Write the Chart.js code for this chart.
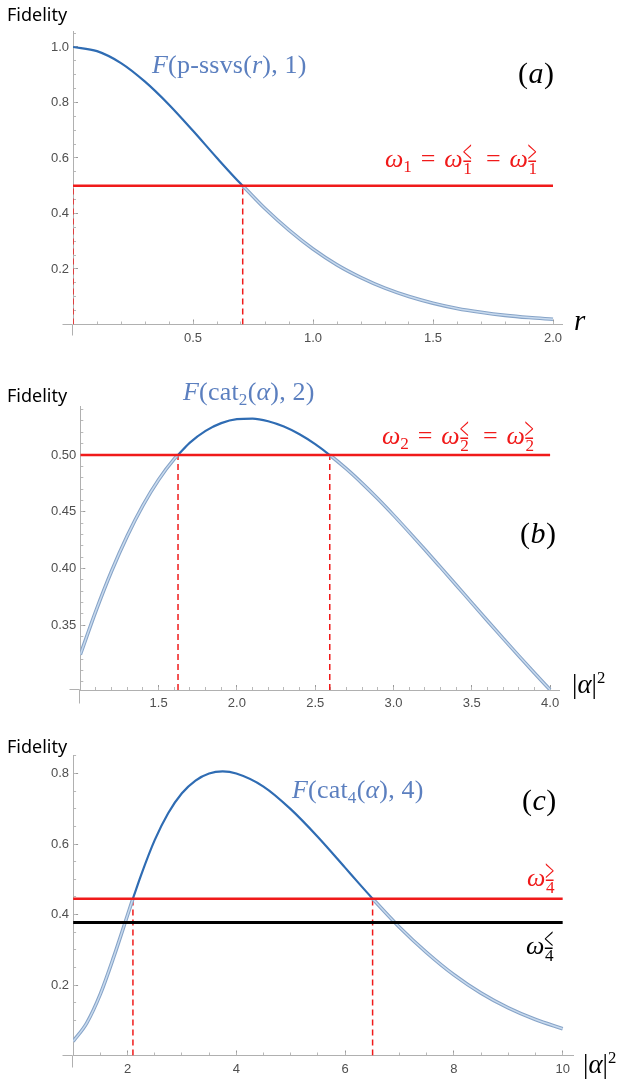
<!DOCTYPE html>
<html>
<head>
<meta charset="utf-8">
<script src="https://cdn.jsdelivr.net/npm/chart.js@4.4.1/dist/chart.umd.min.js"></script>
<style>
html,body{margin:0;padding:0;background:#fff;}
#wrap{position:relative;width:621px;height:1079px;overflow:hidden;background:#fff;}
canvas{position:absolute;left:0;}
.t{position:absolute;white-space:nowrap;line-height:1;}
.fid{font-family:'Noto Sans',sans-serif;font-size:18px;color:#000;}
.m{font-family:'Liberation Serif','Times New Roman',serif;}
.blue{color:#5b7fbf;letter-spacing:0.2px;}
.red{color:#f01a1a;}
.eq{margin:0 0.34em;}
.sb1{font-size:0.66em;vertical-align:-0.32em;line-height:0;}
.ss{display:inline-block;position:relative;width:0.56em;height:0.8em;}
.ss .sp{position:absolute;left:0;bottom:-0.08em;font-size:0.64em;line-height:1;transform:scaleY(1.85);transform-origin:50% 100%;}
.ss .sb{position:absolute;left:0.04em;top:0.78em;font-size:0.66em;line-height:1;}
.sq{font-size:0.62em;vertical-align:0.62em;line-height:0;}
</style>
</head>
<body>
<div id="wrap">
  <canvas id="cA" width="621" height="350" style="top:0px"></canvas>
  <canvas id="cB" width="621" height="365" style="top:350px"></canvas>
  <canvas id="cC" width="621" height="364" style="top:715px"></canvas>

  <span class="t fid" style="left:7px;top:5px">Fidelity</span>
  <span class="t m blue" style="left:152px;top:52px;font-size:26px"><i>F</i>(p-ssvs(<i>r</i>), 1)</span>
  <span class="t m" style="left:518px;top:58px;font-size:30px;letter-spacing:0.5px">(<i>a</i>)</span>
  <span class="t m red" style="left:385px;top:146px;font-size:26px"><i>ω</i><span class="sb1">1</span><span class="eq">=</span><i>ω</i><span class="ss"><span class="sp">≤</span><span class="sb">1</span></span><span class="eq">=</span><i>ω</i><span class="ss"><span class="sp">≥</span><span class="sb">1</span></span></span>
  <span class="t m" style="left:574px;top:306px;font-size:29px"><i>r</i></span>

  <span class="t fid" style="left:7px;top:386px">Fidelity</span>
  <span class="t m blue" style="left:183px;top:379px;font-size:26px"><i>F</i>(cat<span class="sb1">2</span>(<i>α</i>), 2)</span>
  <span class="t m red" style="left:382px;top:423px;font-size:26px"><i>ω</i><span class="sb1">2</span><span class="eq">=</span><i>ω</i><span class="ss"><span class="sp">≤</span><span class="sb">2</span></span><span class="eq">=</span><i>ω</i><span class="ss"><span class="sp">≥</span><span class="sb">2</span></span></span>
  <span class="t m" style="left:520px;top:518px;font-size:30px;letter-spacing:0.5px">(<i>b</i>)</span>
  <span class="t m" style="left:572px;top:671px;font-size:27px">|<i>α</i>|<span class="sq">2</span></span>

  <span class="t fid" style="left:7px;top:737px">Fidelity</span>
  <span class="t m blue" style="left:292px;top:777px;font-size:26px"><i>F</i>(cat<span class="sb1">4</span>(<i>α</i>), 4)</span>
  <span class="t m" style="left:522px;top:785px;font-size:30px;letter-spacing:0.5px">(<i>c</i>)</span>
  <span class="t m red" style="left:527px;top:865px;font-size:26px"><i>ω</i><span class="ss"><span class="sp">≥</span><span class="sb">4</span></span></span>
  <span class="t m" style="left:526px;top:933px;font-size:26px;color:#000"><i>ω</i><span class="ss"><span class="sp">≤</span><span class="sb">4</span></span></span>
  <span class="t m" style="left:583px;top:1051px;font-size:27px">|<i>α</i>|<span class="sq">2</span></span>
</div>
<script>
// ---------------- data: panel (a) ----------------
const rA    = [0, 0.1, 0.2, 0.3, 0.4, 0.5, 0.6, 0.7, 0.7071, 0.8, 0.9, 1.0, 1.1, 1.2, 1.3, 1.4, 1.5, 1.6, 1.7, 1.8, 1.9, 2.0];
const fidA  = [1.000, 0.985, 0.942, 0.875, 0.792, 0.698, 0.600, 0.506, 0.500, 0.418, 0.340, 0.272, 0.215, 0.169, 0.131, 0.101, 0.077, 0.058, 0.044, 0.033, 0.025, 0.019];
const omegaA = 0.5;
const crossA = [0, 0.7071];
const spanA  = [0, 2];
const xTicksA = [0.5, 1.0, 1.5, 2.0];
const xLabelsA = ['0.5', '1.0', '1.5', '2.0'];
const yTicksA = [0.2, 0.4, 0.6, 0.8, 1.0];
const yLabelsA = ['0.2', '0.4', '0.6', '0.8', '1.0'];

// ---------------- data: panel (b) ----------------
const a2B   = [1.0, 1.1, 1.2, 1.3, 1.4, 1.5, 1.6, 1.624, 1.7, 1.8, 1.9, 2.0, 2.1, 2.2, 2.3, 2.4, 2.5, 2.593, 2.7, 2.8, 2.9, 3.0, 3.1, 3.2, 3.3, 3.4, 3.5, 3.6, 3.7, 3.8, 3.9, 4.0];
const fidB  = [0.3240, 0.3626, 0.3977, 0.4287, 0.4556, 0.4782, 0.4966, 0.5000, 0.5109, 0.5213, 0.5281, 0.5316, 0.5321, 0.5298, 0.5251, 0.5183, 0.5096, 0.5000, 0.4877, 0.4750, 0.4614, 0.4470, 0.4320, 0.4167, 0.4011, 0.3854, 0.3696, 0.3539, 0.3383, 0.3229, 0.3078, 0.2930];
const omegaB = 0.5;
const crossB = [1.624, 2.593];
const spanB  = [1, 4];
const xTicksB = [1.5, 2.0, 2.5, 3.0, 3.5, 4.0];
const xLabelsB = ['1.5', '2.0', '2.5', '3.0', '3.5', '4.0'];
const yTicksB = [0.35, 0.40, 0.45, 0.50];
const yLabelsB = ['0.35', '0.40', '0.45', '0.50'];

// ---------------- data: panel (c) ----------------
const a2C   = [1.0, 1.25, 1.5, 1.75, 2.0, 2.10, 2.25, 2.5, 2.75, 3.0, 3.25, 3.5, 3.75, 4.0, 4.5, 5.0, 5.5, 6.0, 6.25, 6.506, 7.0, 7.5, 8.0, 8.5, 9.0, 9.5, 10.0];
const fidC  = [0.040, 0.092, 0.174, 0.281, 0.398, 0.445, 0.512, 0.611, 0.688, 0.744, 0.780, 0.800, 0.806, 0.800, 0.763, 0.699, 0.620, 0.533, 0.489, 0.445, 0.364, 0.292, 0.229, 0.177, 0.135, 0.102, 0.076];
const omegaHiC = 0.445;
const omegaLoC = 0.377;
const crossC = [2.10, 6.506];
const spanC  = [1, 10];
const xTicksC = [2, 4, 6, 8, 10];
const xLabelsC = ['2', '4', '6', '8', '10'];
const yTicksC = [0.2, 0.4, 0.6, 0.8];
const yLabelsC = ['0.2', '0.4', '0.6', '0.8'];

// ---------------- styling ----------------
const DARK = '#2f6cb3', EDGE = '#87a4c8', CORE = '#c8daee';
const RED = '#f01a1a', BLACK = '#000000';
const AXIS = '#b0b0b0', TMAJ = '#999999', TMIN = '#b9b9b9', LAB = '#4f4f4f';
const FONT = {family: "'Liberation Sans', Arial, sans-serif", size: 13};

function steps(a, b, st) {
  const out = []; const n = Math.round((b - a) / st);
  for (let i = 0; i <= n; i++) out.push(+(a + i * st).toFixed(6));
  return out;
}

// Mathematica-style axes: lines run a little past the crossing point
const axisOverhang = {
  id: 'axisOverhang',
  afterDraw(chart, args, opts) {
    const {ctx} = chart;
    const xs = chart.scales.x, ys = chart.scales.y;
    const yPix = Math.round(xs.top) + 0.5 - 1;
    const xPix = Math.round(ys.right) + 0.5 - 1;
    ctx.save();
    ctx.strokeStyle = AXIS; ctx.lineWidth = 1;
    ctx.beginPath();
    ctx.moveTo(xPix - (opts.left || 0), yPix); ctx.lineTo(xPix, yPix);
    ctx.moveTo(xPix, yPix); ctx.lineTo(xPix, yPix + (opts.down || 0));
    ctx.stroke();
    ctx.restore();
  }
};

function axisPair(axis, o) {
  const isX = axis === 'x';
  const major = {
    type: 'linear', axis, position: isX ? 'bottom' : 'left', weight: 1,
    min: o.min, max: o.max,
    border: {display: true, color: AXIS, width: 1},
    grid: {drawOnChartArea: false, drawTicks: true, tickLength: -5, color: TMAJ, lineWidth: 1},
    ticks: {font: FONT, color: LAB, padding: isX ? 11 : 9, autoSkip: false, maxRotation: 0,
      callback: v => { const i = o.major.indexOf(v); return i < 0 ? '' : o.labels[i]; }},
    afterBuildTicks: s => { s.ticks = o.major.map(v => ({value: v})); },
    afterFit: s => { if (isX) s.height = o.size; else s.width = o.size; }
  };
  const minor = {
    type: 'linear', axis, position: isX ? 'bottom' : 'left', weight: 0,
    min: o.min, max: o.max,
    border: {display: false},
    grid: {drawOnChartArea: false, drawTicks: true, tickLength: -3, color: TMIN, lineWidth: 1},
    ticks: {display: false},
    afterBuildTicks: s => { s.ticks = o.minor.map(v => ({value: v})); },
    afterFit: s => { if (isX) s.height = 0; else s.width = 0; }
  };
  return [major, minor];
}

function panel(id, P) {
  const pts = P.cx.map((x, i) => ({x, y: P.cy[i]}));
  const above = c => (c.p0.parsed.y + c.p1.parsed.y) / 2 > P.thr;
  const ds = [];
  P.hlines.forEach(h => ds.push({
    data: P.span.map(x => ({x, y: h.y})), borderColor: h.color, borderWidth: h.w, order: 0
  }));
  ds.push({data: pts, borderColor: CORE, borderWidth: 1.5, cubicInterpolationMode: 'monotone', order: 1,
    segment: {borderColor: c => above(c) ? 'rgba(0,0,0,0)' : CORE}});
  ds.push({data: pts, borderColor: EDGE, borderWidth: 3.6, cubicInterpolationMode: 'monotone', order: 2,
    segment: {borderColor: c => above(c) ? DARK : EDGE, borderWidth: c => above(c) ? 2.2 : 3.6}});
  P.cross.forEach(x => ds.push({
    data: [{x, y: P.y.min}, {x, y: P.thr}], borderColor: RED, borderWidth: 1.5, borderDash: [6, 4], order: 3
  }));
  ds.forEach(d => { d.type = 'line'; d.pointRadius = 0; d.pointHoverRadius = 0; d.fill = false;
    if (!d.cubicInterpolationMode) d.tension = 0; d.xAxisID = 'x'; d.yAxisID = 'y'; });
  const [xM, xm] = axisPair('x', P.x);
  const [yM, ym] = axisPair('y', P.y);
  new Chart(document.getElementById(id), {
    type: 'line',
    data: {datasets: ds},
    plugins: [axisOverhang],
    options: {
      responsive: false, animation: false, devicePixelRatio: 1, events: [],
      layout: {padding: P.pad},
      plugins: {legend: {display: false}, tooltip: {enabled: false}, title: {display: false},
        axisOverhang: P.over},
      scales: {x: xM, xMinor: xm, y: yM, yMinor: ym}
    }
  });
}

panel('cA', {
  cx: rA, cy: fidA, thr: omegaA, span: spanA, cross: crossA,
  hlines: [{y: omegaA, color: RED, w: 2.5}],
  x: {min: 0, max: 2.04, major: xTicksA, labels: xLabelsA, minor: steps(0, 2, 0.1), size: 25.5},
  y: {min: 0, max: 1.055, major: yTicksA, labels: yLabelsA, minor: steps(0, 1.05, 0.05), size: 73},
  pad: {left: 0, top: 31.7, right: 58.4, bottom: 0},
  over: {left: 10, down: 11}
});

panel('cB', {
  cx: a2B, cy: fidB, thr: omegaB, span: spanB, cross: crossB,
  hlines: [{y: omegaB, color: RED, w: 2.5}],
  x: {min: 1, max: 4.062, major: xTicksB, labels: xLabelsB, minor: steps(1, 4, 0.1), size: 25},
  y: {min: 0.2928, max: 0.5426, major: yTicksB, labels: yLabelsB, minor: steps(0.30, 0.54, 0.01), size: 80.3},
  pad: {left: 0, top: 56.7, right: 61.2, bottom: 0},
  over: {left: 10, down: 14}
});

panel('cC', {
  cx: a2C, cy: fidC, thr: omegaHiC, span: spanC, cross: crossC,
  hlines: [{y: omegaHiC, color: RED, w: 2.5}, {y: omegaLoC, color: BLACK, w: 3}],
  x: {min: 1, max: 10.19, major: xTicksC, labels: xLabelsC, minor: steps(1, 10, 0.5), size: 23.5},
  y: {min: 0, max: 0.85, major: yTicksC, labels: yLabelsC, minor: steps(0, 0.85, 0.05), size: 73.1},
  pad: {left: 0, top: 40.9, right: 48, bottom: 0},
  over: {left: 10, down: 12}
});
</script>
</body>
</html>
